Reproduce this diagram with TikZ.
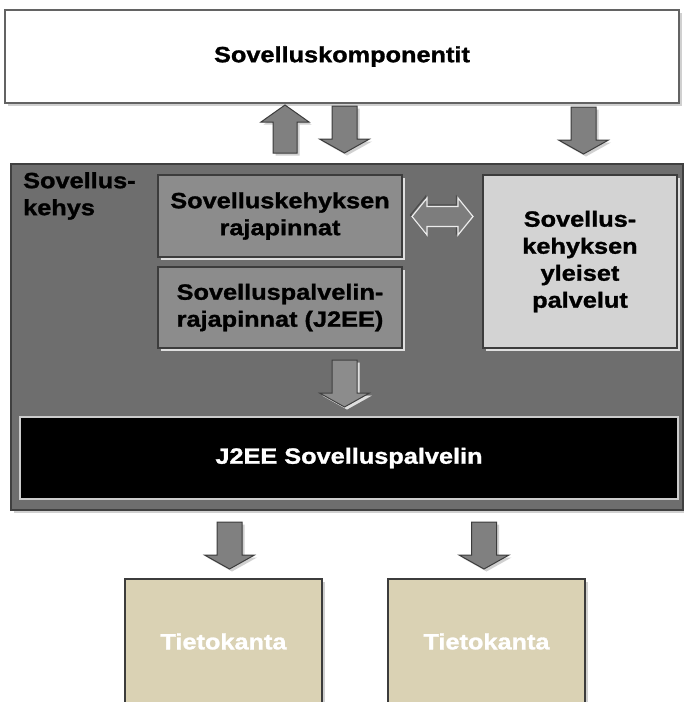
\documentclass[tikz,border=0pt]{standalone}
\usepackage{fontspec}
\newfontfamily\lbl{Liberation Sans}[FakeStretch=1.15, FakeBold=1.3]
\definecolor{framegray}{RGB}{110,110,110}
\definecolor{midgray}{RGB}{140,140,140}
\definecolor{lightgray}{RGB}{211,211,211}
\definecolor{arrowgray}{RGB}{128,128,128}
\definecolor{dbbeige}{RGB}{218,210,180}
\definecolor{edgegray}{RGB}{60,60,60}
\tikzset{
  txt/.style={font=\lbl\bfseries\fontsize{22}{27}\selectfont, align=center},
  box/.style={txt, draw=edgegray, line width=1.2pt, inner sep=0pt},
  dshadow/.style={preaction={draw=none, fill=black!30, opacity=.6,
      transform canvas={xshift=2.5pt, yshift=-2.5pt}}},
  lshadow/.style={preaction={draw=none, fill=white!75!gray,
      transform canvas={xshift=2.5pt, yshift=-2.5pt}}},
  blockarrow/.style={fill=arrowgray, draw=edgegray, line width=1pt, line join=miter, dshadow},
  innerarrow/.style={fill=midgray, draw=black!75, line width=1pt, lshadow},
  pics/blkdown/.style={code={
    \path[blockarrow,#1] (-12.5,0) -- (12.5,0) -- (12.5,33) -- (25,33) -- (0,47)
      -- (-25,33) -- (-12.5,33) -- cycle;}},
  pics/blkdown/.default={},
  pics/blkup/.style={code={
    \path[blockarrow] (-12,48) -- (12,48) -- (12,17) -- (24,17) -- (0,0)
      -- (-24,17) -- (-12,17) -- cycle;}},
  pics/blkboth/.style={code={
    \path[fill=framegray!90!white, draw=white!85!gray, line width=1.2pt,
      preaction={draw=black!70, line width=1.2pt,
        transform canvas={xshift=-1.5pt, yshift=1.5pt}}]
      (-30.5,0) -- (-15.5,-18.5) -- (-15.5,-10) -- (15.5,-10) -- (15.5,-18.5)
      -- (30.5,0) -- (15.5,18.5) -- (15.5,10) -- (-15.5,10) -- (-15.5,18.5) -- cycle;}}
}
\begin{document}
\begin{tikzpicture}[x=1pt, y=-1pt]
\useasboundingbox[fill=white] (0,0) rectangle (684,702);

% application components
\node[box, fill=white, draw=edgegray!80, dshadow, minimum width=674, minimum height=93]
  (komp) at (342,56.5) {Sovelluskomponentit};

% framework frame
\node[box, fill=framegray, draw=black!75, dshadow, minimum width=672, minimum height=346]
  (kehys) at (347,337) {};
\node[txt, align=left, anchor=north west, inner sep=0pt] (kehyslbl) at (23,172)
  {Sovellus-\\kehys};

\node[box, fill=midgray, lshadow, minimum width=244, minimum height=82]
  (rajap) at (280,216) {Sovelluskehyksen\\rajapinnat};
\node[box, fill=midgray, lshadow, minimum width=244, minimum height=81]
  (j2eerajap) at (280,307.5) {Sovelluspalvelin-\\rajapinnat (J2EE)};
\node[box, fill=lightgray, lshadow, minimum width=194, minimum height=173]
  (yleiset) at (580,261.5) {Sovellus-\\kehyksen\\yleiset\\palvelut};

% application server
\node[box, fill=black, text=white, draw=white!60!gray, line width=2.5pt,
  minimum width=658, minimum height=82] (server) at (349,458) {J2EE Sovelluspalvelin};

% databases
\node[box, fill=dbbeige, text=white, dshadow, minimum width=197, minimum height=125]
  (db1) at (223.5,641.5) {Tietokanta};
\node[box, fill=dbbeige, text=white, dshadow, minimum width=197, minimum height=125]
  (db2) at (486.5,641.5) {Tietokanta};

% block arrows
\pic (upA) at (285,105) {blkup};
\pic (dnA) at (344.5,106) {blkdown};
\pic (dnB) at (583.5,107) {blkdown};
\pic (both) at (442.5,216.5) {blkboth};
\pic (dnC) at (344.5,360) {blkdown={innerarrow}};
\pic (dnD) at (229.5,522) {blkdown};
\pic (dnE) at (484,522) {blkdown};
\end{tikzpicture}
\end{document}
